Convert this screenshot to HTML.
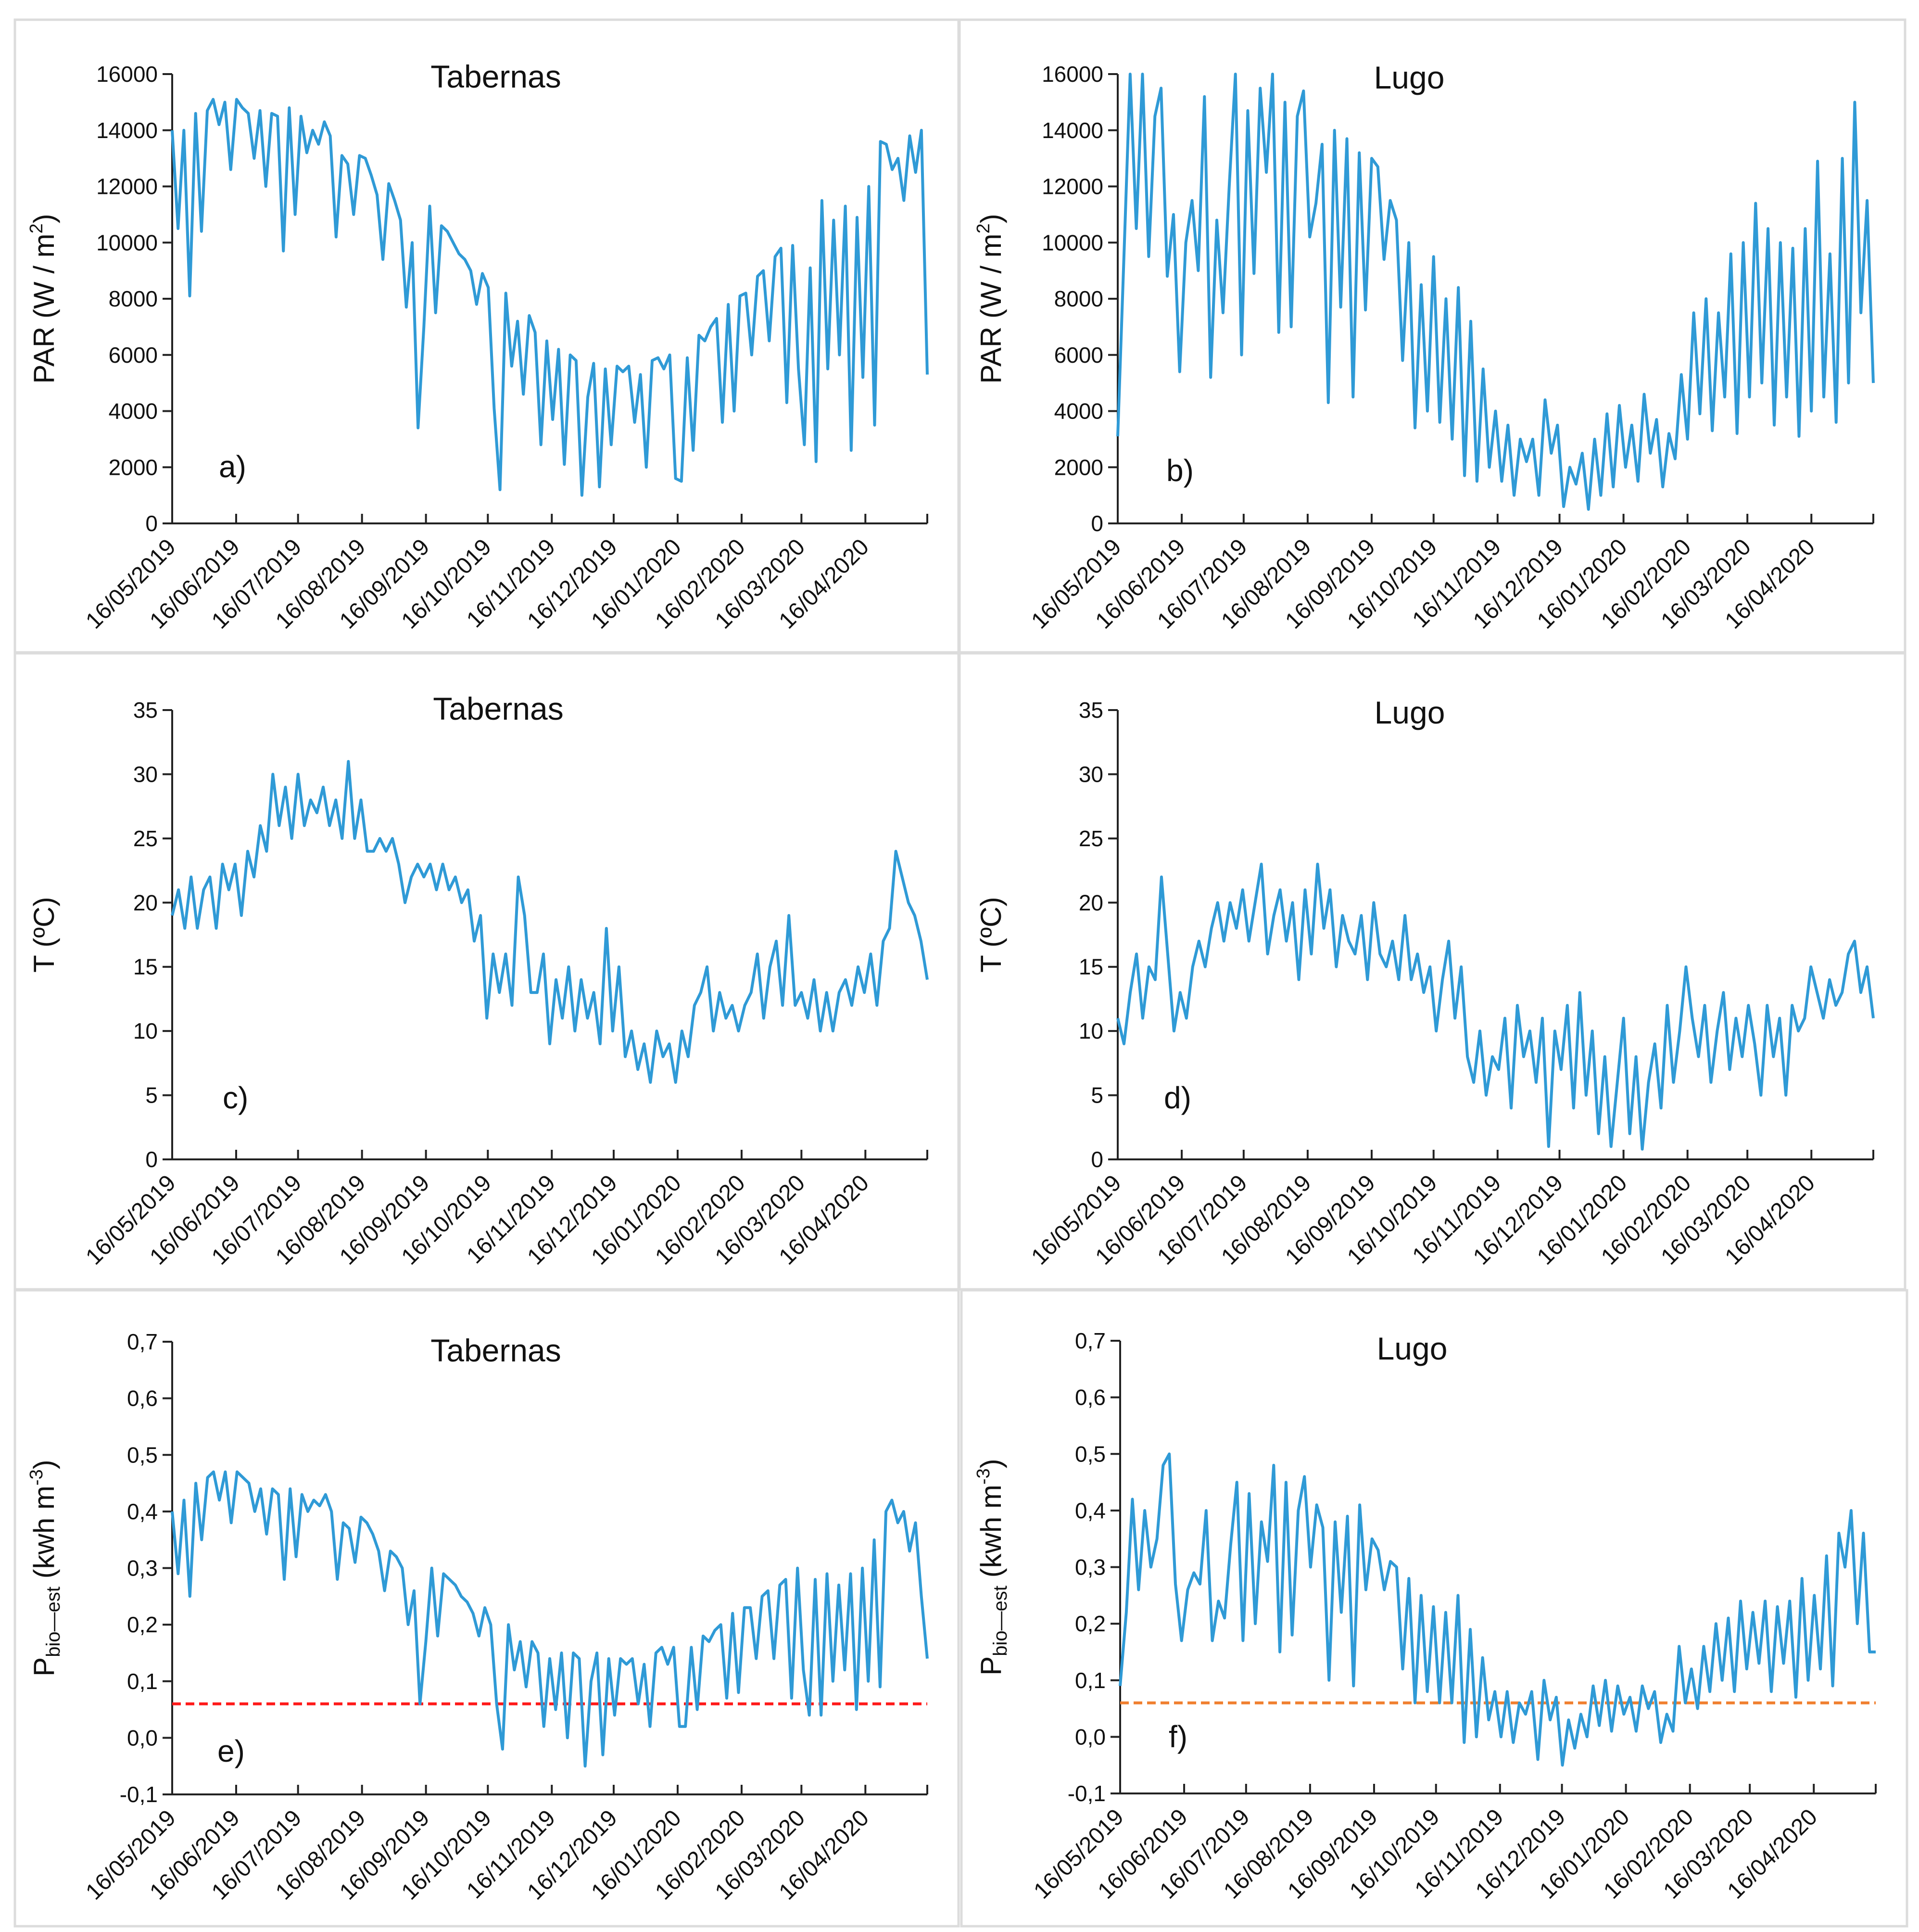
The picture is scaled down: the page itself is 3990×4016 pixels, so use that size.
<!DOCTYPE html>
<html><head><meta charset="utf-8">
<style>
html,body{margin:0;padding:0;background:#fff;}
svg{display:block;}
text{font-family:"Liberation Sans",sans-serif;fill:#111;}
</style></head>
<body>
<svg id="fig" xmlns="http://www.w3.org/2000/svg" width="3990" height="4016" viewBox="0 0 3990 4016">
<g fill="none" stroke="#dcdcdc" stroke-width="5">
<rect x="31" y="41" width="1962" height="1315"/>
<rect x="1995" y="41" width="1966" height="1315"/>
<rect x="31" y="1358" width="1962" height="1322"/>
<rect x="1995" y="1358" width="1966" height="1322"/>
<rect x="31" y="2682" width="1962" height="1322"/>
<rect x="1999" y="2682" width="1966" height="1322"/>
</g>
</svg>
<script>
const tickDays = [0,31,61,92,123,153,184,214,245,276,305,336];
const tickLabels = ["16/05/2019","16/06/2019","16/07/2019","16/08/2019","16/09/2019","16/10/2019","16/11/2019","16/12/2019","16/01/2020","16/02/2020","16/03/2020","16/04/2020"];
const parTabernas = [14000,10500,14000,8100,14600,10400,14700,15100,14200,15000,12600,15100,14800,14600,13000,14700,12000,14600,14500,9700,14800,11000,14500,13200,14000,13500,14300,13800,10200,13100,12800,11000,13100,13000,12400,11700,9400,12100,11500,10800,7700,10000,3400,7000,11300,7500,10600,10400,10000,9600,9400,9000,7800,8900,8400,4100,1200,8200,5600,7200,4600,7400,6800,2800,6500,3700,6200,2100,6000,5800,1000,4500,5700,1300,5500,2800,5600,5400,5600,3600,5300,2000,5800,5900,5500,6000,1600,1500,5900,2600,6700,6500,7000,7300,3600,7800,4000,8100,8200,6000,8800,9000,6500,9500,9800,4300,9900,5500,2800,9100,2200,11500,5500,10800,6000,11300,2600,10900,5200,12000,3500,13600,13500,12600,13000,11500,13800,12500,14000,5300];
const parLugo = [3100,9500,16000,10500,16000,9500,14500,15500,8800,11000,5400,10000,11500,9000,15200,5200,10800,7500,12000,16000,6000,14700,8900,15500,12500,16000,6800,15000,7000,14500,15400,10200,11400,13500,4300,14000,7700,13700,4500,13200,7600,13000,12700,9400,11500,10800,5800,10000,3400,8500,4000,9500,3600,8000,3000,8400,1700,7200,1500,5500,2000,4000,1500,3500,1000,3000,2200,3000,1000,4400,2500,3500,600,2000,1400,2500,500,3000,1000,3900,1300,4200,2000,3500,1500,4600,2500,3700,1300,3200,2300,5300,3000,7500,3900,8000,3300,7500,4500,9600,3200,10000,4500,11400,5000,10500,3500,10000,4500,9800,3100,10500,4000,12900,4500,9600,3600,13000,5000,15000,7500,11500,5000];
const tTabernas = [19,21,18,22,18,21,22,18,23,21,23,19,24,22,26,24,30,26,29,25,30,26,28,27,29,26,28,25,31,25,28,24,24,25,24,25,23,20,22,23,22,23,21,23,21,22,20,21,17,19,11,16,13,16,12,22,19,13,13,16,9,14,11,15,10,14,11,13,9,18,10,15,8,10,7,9,6,10,8,9,6,10,8,12,13,15,10,13,11,12,10,12,13,16,11,15,17,12,19,12,13,11,14,10,13,10,13,14,12,15,13,16,12,17,18,24,22,20,19,17,14];
const tLugo = [11,9,13,16,11,15,14,22,16,10,13,11,15,17,15,18,20,17,20,18,21,17,20,23,16,19,21,17,20,14,21,16,23,18,21,15,19,17,16,19,14,20,16,15,17,14,19,14,16,13,15,10,14,17,11,15,8,6,10,5,8,7,11,4,12,8,10,6,11,1,10,7,12,4,13,5,10,2,8,1,6,11,2,8,0.8,6,9,4,12,6,10,15,11,8,12,6,10,13,7,11,8,12,9,5,12,8,11,5,12,10,11,15,13,11,14,12,13,16,17,13,15,11];
const pTabernas = [0.4,0.29,0.42,0.25,0.45,0.35,0.46,0.47,0.42,0.47,0.38,0.47,0.46,0.45,0.40,0.44,0.36,0.44,0.43,0.28,0.44,0.32,0.43,0.40,0.42,0.41,0.43,0.40,0.28,0.38,0.37,0.31,0.39,0.38,0.36,0.33,0.26,0.33,0.32,0.30,0.20,0.26,0.06,0.17,0.30,0.18,0.29,0.28,0.27,0.25,0.24,0.22,0.18,0.23,0.20,0.06,-0.02,0.20,0.12,0.17,0.09,0.17,0.15,0.02,0.14,0.05,0.15,0.00,0.15,0.14,-0.05,0.10,0.15,-0.03,0.14,0.04,0.14,0.13,0.14,0.06,0.13,0.02,0.15,0.16,0.13,0.16,0.02,0.02,0.16,0.05,0.18,0.17,0.19,0.20,0.07,0.22,0.08,0.23,0.23,0.14,0.25,0.26,0.14,0.27,0.28,0.07,0.30,0.12,0.04,0.28,0.04,0.29,0.10,0.27,0.12,0.29,0.05,0.30,0.10,0.35,0.09,0.40,0.42,0.38,0.40,0.33,0.38,0.25,0.14];
const pLugo = [0.09,0.22,0.42,0.26,0.40,0.30,0.35,0.48,0.50,0.27,0.17,0.26,0.29,0.27,0.40,0.17,0.24,0.21,0.34,0.45,0.17,0.43,0.20,0.38,0.31,0.48,0.15,0.45,0.18,0.40,0.46,0.30,0.41,0.37,0.10,0.38,0.22,0.39,0.09,0.41,0.26,0.35,0.33,0.26,0.31,0.30,0.12,0.28,0.06,0.25,0.08,0.23,0.06,0.22,0.06,0.25,-0.01,0.19,0.00,0.14,0.03,0.08,0.00,0.08,-0.01,0.06,0.04,0.08,-0.04,0.10,0.03,0.07,-0.05,0.03,-0.02,0.04,0.00,0.09,0.02,0.10,0.01,0.09,0.04,0.07,0.01,0.09,0.05,0.08,-0.01,0.04,0.01,0.16,0.06,0.12,0.05,0.16,0.08,0.20,0.10,0.21,0.08,0.24,0.12,0.22,0.13,0.24,0.08,0.23,0.13,0.24,0.07,0.28,0.10,0.25,0.12,0.32,0.09,0.36,0.30,0.40,0.20,0.36,0.15,0.15];
const thresholdValue = [0.06];

const NS = "http://www.w3.org/2000/svg";
const svg = document.getElementById('fig');
function mk(tag, attrs, parent){ const e=document.createElementNS(NS,tag); for(const k in attrs) e.setAttribute(k,attrs[k]); (parent||svg).appendChild(e); return e; }

const panels = [
 {id:'a',x0:358,x1:1928,yT:154,yB:1088,min:0,max:16000,step:2000,dec:0,data:parTabernas,title:'Tabernas',tx:1031,ty:182,lab:'a)',lx:455,ly:992,yt:'PAR',ytx:112},
 {id:'b',x0:2324,x1:3895,yT:154,yB:1088,min:0,max:16000,step:2000,dec:0,data:parLugo,title:'Lugo',tx:2930,ty:184,lab:'b)',lx:2425,ly:1000,yt:'PAR',ytx:2081},
 {id:'c',x0:358,x1:1928,yT:1476,yB:2410,min:0,max:35,step:5,dec:0,data:tTabernas,title:'Tabernas',tx:1036,ty:1496,lab:'c)',lx:463,ly:2304,yt:'T',ytx:112},
 {id:'d',x0:2324,x1:3895,yT:1476,yB:2410,min:0,max:35,step:5,dec:0,data:tLugo,title:'Lugo',tx:2931,ty:1504,lab:'d)',lx:2420,ly:2304,yt:'T',ytx:2081},
 {id:'e',x0:358,x1:1928,yT:2789,yB:3730,min:-0.1,max:0.7,step:0.1,dec:1,data:pTabernas,title:'Tabernas',tx:1031,ty:2830,lab:'e)',lx:452,ly:3662,yt:'P',ytx:112,thr:'#ff1a1a'},
 {id:'f',x0:2329,x1:3900,yT:2787,yB:3728,min:-0.1,max:0.7,step:0.1,dec:1,data:pLugo,title:'Lugo',tx:2936,ty:2826,lab:'f)',lx:2430,ly:3632,yt:'P',ytx:2081,thr:'#f08030'}
];

panels.forEach(p=>{
  const g = mk('g',{});
  
  
  const xs = d => p.x0 + d/366*(p.x1-p.x0);
  const ys = v => p.yB - (v-p.min)/(p.max-p.min)*(p.yB-p.yT);
  const ya = mk('line',{x1:p.x0,y1:p.yT,x2:p.x0,y2:p.yB,stroke:'#222','stroke-width':4},g);
  
  
  const nT = Math.round((p.max-p.min)/p.step);
  for(let i=0;i<=nT;i++){
    const v = p.min+i*p.step; const y=ys(v);
    const t = mk('line',{x1:p.x0-20,y1:y,x2:p.x0,y2:y,stroke:'#222','stroke-width':4},g);
    
    
    const lbl = mk('text',{x:p.x0-30,y:y+16,'text-anchor':'end','font-size':46},g);
    lbl.textContent = p.dec? v.toFixed(1).replace('.',',') : String(Math.round(v));
    
    
  }
  const axY = p.yB;
  const xa = mk('line',{x1:p.x0-16,y1:axY,x2:p.x1,y2:axY,stroke:'#222','stroke-width':4},g);
  
  
  const allTicks = tickDays.concat([366]);
  allTicks.forEach(d=>{
    const t=mk('line',{x1:xs(d),y1:axY-20,x2:xs(d),y2:axY,stroke:'#222','stroke-width':4},g);
    
    
  });
  tickLabels.forEach((s,i)=>{
    const x=xs(tickDays[i])+10, y=axY+52;
    const t=mk('text',{x:x,y:y,'text-anchor':'end','font-size':48,transform:`rotate(-45 ${x} ${y})`},g);
    t.textContent=s;
    
    
  });
  if(p.thr){
    const y=ys(thresholdValue[0]);
    const l=mk('line',{x1:p.x0,y1:y,x2:p.x1,y2:y,stroke:p.thr,'stroke-width':6,'stroke-dasharray':'18 10'},g);
    
    
  }
  const n=p.data.length;
  const pts=p.data.map((v,i)=>xs(i*366/(n-1)).toFixed(1)+','+ys(v).toFixed(1)).join(' ');
  const pl=mk('polyline',{points:pts,fill:'none',stroke:'#2f9ad6','stroke-width':6,'stroke-linejoin':'round'},g);
  
  
  const tt=mk('text',{x:p.tx,y:p.ty,'text-anchor':'middle','font-size':66},g);
  tt.textContent=p.title;
  
  
  const lb=mk('text',{x:p.lx,y:p.ly,'font-size':64},g);
  lb.textContent=p.lab;
  
  
  const cy=(p.yT+p.yB)/2;
  const yt=mk('text',{x:p.ytx,y:cy,'text-anchor':'middle','font-size':60,transform:`rotate(-90 ${p.ytx} ${cy})`},g);
  
  
  if(p.yt==='PAR'){
    yt.innerHTML='PAR (W / m<tspan font-size="38" dy="-24">2</tspan><tspan dy="24">)</tspan>';
  } else if(p.yt==='T'){
    yt.textContent='T (ºC)';
  } else {
    yt.innerHTML='P<tspan font-size="40" dy="12">bio—est</tspan><tspan dy="-12"> (kwh m</tspan><tspan font-size="38" dy="-24">-3</tspan><tspan dy="24">)</tspan>';
  }
});
</script>
</body></html>
